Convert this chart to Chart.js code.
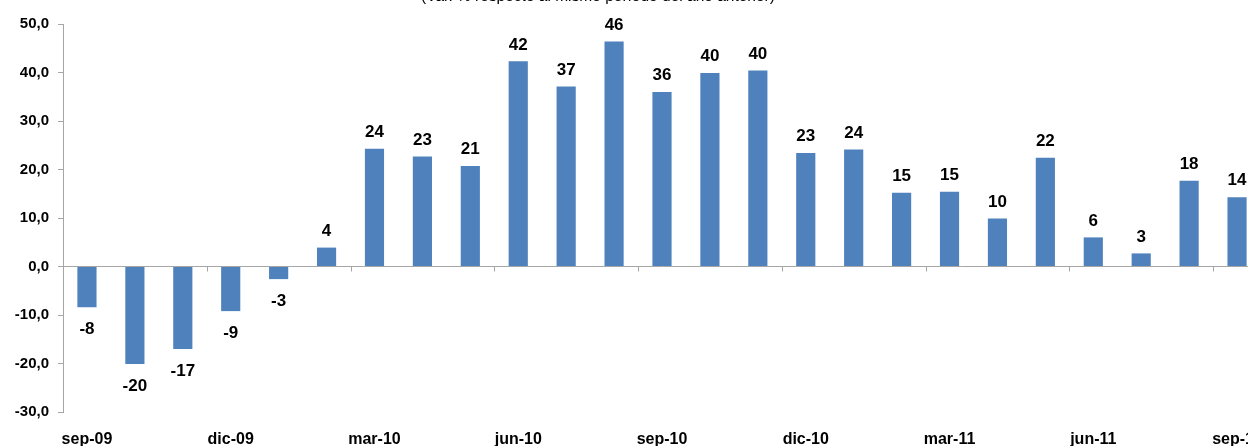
<!DOCTYPE html>
<html>
<head>
<meta charset="utf-8">
<script src="https://cdn.jsdelivr.net/npm/chart.js@4/dist/chart.umd.min.js"></script>
<style>
  html, body { margin: 0; padding: 0; background: #fff; overflow: hidden; }
  #wrap { width: 1248px; height: 446px; overflow: hidden; position: relative; }
  #box { width: 1261px; height: 446px; position: absolute; left: 0; top: 0; }
</style>
</head>
<body>
<div id="wrap"><div id="box"><canvas id="myChart"></canvas></div></div>
<script>
let months = ['sep-09', 'oct-09', 'nov-09', 'dic-09', 'ene-10', 'feb-10', 'mar-10', 'abr-10', 'may-10',
  'jun-10', 'jul-10', 'ago-10', 'sep-10', 'oct-10', 'nov-10', 'dic-10', 'ene-11', 'feb-11', 'mar-11',
  'abr-11', 'may-11', 'jun-11', 'jul-11', 'ago-11', 'sep-11'];
let values = [-8.4, -20.1, -17.0, -9.2, -2.6, 3.9, 24.3, 22.7, 20.7, 42.3, 37.1, 46.4, 36.0,
  39.9, 40.4, 23.4, 24.1, 15.2, 15.4, 9.9, 22.4, 6.0, 2.7, 17.7, 14.3];
let yTicks = [50, 40, 30, 20, 10, 0, -10, -20, -30];
let title = '(Var. % respecto al mismo período del año anterior)';

let barColor = '#4F81BD';
let axisColor = '#A6A6A6';

// value labels above / below each bar
let barLabels = {
  id: 'barLabels',
  afterDatasetsDraw(chart) {
    let ctx = chart.ctx;
    let meta = chart.getDatasetMeta(0);
    ctx.save();
    ctx.font = 'bold 17px "Liberation Sans", Arial, sans-serif';
    ctx.fillStyle = '#000';
    ctx.textAlign = 'center';
    meta.data.forEach((bar, i) => {
      let v = values[i];
      let txt = Math.round(v).toString();
      if (v >= 0) {
        ctx.textBaseline = 'bottom';
        ctx.fillText(txt, bar.x, bar.y - 8);
      } else {
        ctx.textBaseline = 'top';
        ctx.fillText(txt, bar.x, bar.y + 14);
      }
    });
    ctx.restore();
  }
};

// tick marks on the zero line every 3 months + cut title at top
let extras = {
  id: 'extras',
  afterDraw(chart) {
    let ctx = chart.ctx;
    let x = chart.scales.x;
    let y0 = chart.scales.y.getPixelForValue(0);
    let w = x.getPixelForValue(1) - x.getPixelForValue(0);
    ctx.save();
    ctx.strokeStyle = axisColor;
    ctx.lineWidth = 1;
    for (let i = 0; i <= months.length; i += 3) {
      let px = Math.round(x.getPixelForValue(i) - w / 2) + 0.5;
      ctx.beginPath();
      ctx.moveTo(px, y0);
      ctx.lineTo(px, y0 + 5);
      ctx.stroke();
    }
    ctx.font = '15.5px "Liberation Sans", Arial, sans-serif';
    ctx.fillStyle = '#000';
    ctx.textAlign = 'center';
    ctx.textBaseline = 'alphabetic';
    ctx.fillText(title, 598, 1);
    ctx.restore();
  }
};

let myChart = document.getElementById('myChart').getContext('2d');

let chart = new Chart(myChart, {
  type: 'bar',
  data: {
    labels: months,
    datasets: [{
      data: values,
      backgroundColor: barColor,
      borderWidth: 0,
      categoryPercentage: 1.0,
      barPercentage: 0.4
    }]
  },
  options: {
    responsive: true,
    maintainAspectRatio: false,
    animation: false,
    layout: { padding: { top: 24, right: 0, left: 0, bottom: 0 } },
    plugins: {
      legend: { display: false },
      tooltip: { enabled: false }
    },
    scales: {
      x: {
        grid: { display: false, drawTicks: false },
        border: { display: false },
        afterFit(scale) {
          scale.height = 34;
          scale.paddingLeft = 0;
          scale.paddingRight = 0;
        },
        ticks: {
          autoSkip: false,
          maxRotation: 0,
          padding: 18,
          color: '#000',
          font: { family: '"Liberation Sans", Arial, sans-serif', size: 16, weight: 'bold' },
          callback: function (val, i) { return i % 3 === 0 ? months[i] : ''; }
        }
      },
      y: {
        min: -30,
        max: 50,
        afterFit(scale) { scale.width = 63; },
        afterBuildTicks(scale) { scale.ticks = yTicks.map(v => ({ value: v })); },
        border: { display: true, color: axisColor, width: 1 },
        grid: {
          color: c => (c.tick && c.tick.value === 0 ? axisColor : 'rgba(0,0,0,0)'),
          tickColor: axisColor,
          tickLength: 5
        },
        ticks: {
          padding: 9,
          color: '#000',
          font: { family: '"Liberation Sans", Arial, sans-serif', size: 15, weight: 'bold' },
          callback: v => v.toFixed(1).replace('.', ',')
        }
      }
    }
  },
  plugins: [barLabels, extras]
});
</script>
</body>
</html>
